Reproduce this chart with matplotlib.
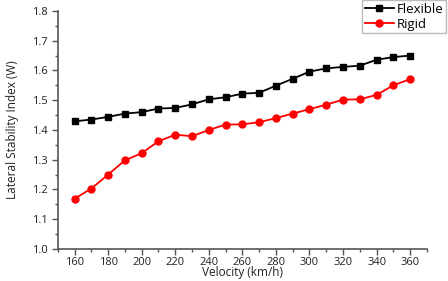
import matplotlib
matplotlib.use("Agg")
import matplotlib.pyplot as plt
from matplotlib.ticker import MultipleLocator

plt.rcParams['font.family'] = ['Open Sans', 'DejaVu Sans']

velocity = [160, 170, 180, 190, 200, 210, 220, 230, 240, 250, 260, 270, 280, 290, 300, 310, 320, 330, 340, 350, 360]
flexible = [1.429, 1.435, 1.444, 1.455, 1.460, 1.472, 1.474, 1.486, 1.503, 1.510, 1.522, 1.525, 1.549, 1.572, 1.596, 1.607, 1.612, 1.616, 1.636, 1.645, 1.650]
rigid = [1.169, 1.203, 1.250, 1.298, 1.322, 1.362, 1.384, 1.379, 1.400, 1.418, 1.419, 1.426, 1.440, 1.455, 1.470, 1.485, 1.502, 1.503, 1.518, 1.550, 1.571]

fig = plt.figure(figsize=(4.48, 2.81), dpi=100)
ax = fig.add_axes([0.129, 0.114, 0.824, 0.847])

ax.plot(velocity, flexible, color='black', marker='s', markersize=4.5, linewidth=1.3, label='Flexible')
ax.plot(velocity, rigid, color='#ff0000', marker='o', markersize=5, linewidth=1.3, label='Rigid')

ax.set_xlim(150, 370)
ax.set_ylim(1.0, 1.8)
ax.xaxis.set_major_locator(MultipleLocator(20))
ax.xaxis.set_minor_locator(MultipleLocator(10))
ax.yaxis.set_major_locator(MultipleLocator(0.1))
ax.yaxis.set_minor_locator(MultipleLocator(0.05))
ax.set_xticks(range(160, 361, 20))
ax.tick_params(axis='both', which='major', labelsize=8, length=4, width=1, direction='out', color='#555555', labelcolor='#222222')
ax.tick_params(axis='x', which='major', pad=1.5)
ax.tick_params(axis='both', which='minor', length=2.5, width=1, direction='out', color='#555555')
ax.yaxis.set_major_formatter(matplotlib.ticker.FormatStrFormatter('%.1f'))

for s in ['top', 'right']:
    ax.spines[s].set_visible(False)
for s in ['left', 'bottom']:
    ax.spines[s].set_color('#555555')
    ax.spines[s].set_linewidth(1.2)

ax.set_xlabel('Velocity (km/h)', fontsize=8.5, labelpad=-1, color='#222222')
ax.set_ylabel('Lateral Stability Index (W)', fontsize=8.5, labelpad=9, color='#222222')

leg = fig.legend(loc='upper left', bbox_to_anchor=(0.808, 1.0), fontsize=9.5, frameon=True,
                 fancybox=False, edgecolor='#aaaaaa', handlelength=2.2, handletextpad=0.2,
                 borderpad=0.2, labelspacing=0.15, borderaxespad=0)
leg.get_frame().set_linewidth(1.0)

fig.savefig('out.png', dpi=100)
